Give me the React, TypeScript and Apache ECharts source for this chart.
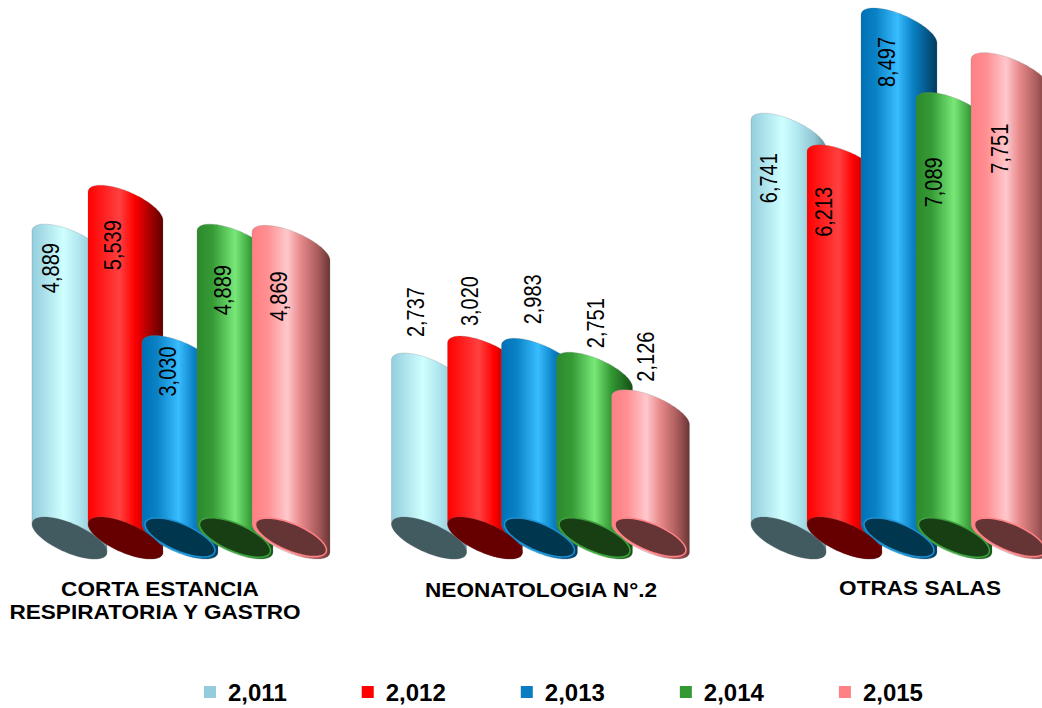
import React, { useEffect, useRef } from "react";
import * as echarts from "echarts";

const categories = ["CORTA ESTANCIA\nRESPIRATORIA Y GASTRO", "NEONATOLOGIA N°.2", "OTRAS SALAS"];
const years = ["2,011", "2,012", "2,013", "2,014", "2,015"];
const values2011 = [4889, 2737, 6741];
const values2012 = [5539, 3020, 6213];
const values2013 = [3030, 2983, 8497];
const values2014 = [4889, 2751, 7089];
const values2015 = [4869, 2126, 7751];
const allValues = [values2011, values2012, values2013, values2014, values2015];

// Styling
const swatch = ["#93CDDD", "#FF0000", "#0A7DC2", "#339933", "#FF8085"];
const gradients: [number, string][][] = [
  [[0, "#93CDDD"], [0.42, "#CFFFFF"], [0.6, "#B4EAF2"], [0.85, "#8FC4D2"], [1, "#5F8C98"]],
  [[0, "#FF0000"], [0.42, "#FF4040"], [0.62, "#FF0000"], [0.8, "#B00000"], [1, "#600000"]],
  [[0, "#0070B5"], [0.2, "#0B82C6"], [0.48, "#38BDFF"], [0.68, "#0B82C6"], [1, "#003A5E"]],
  [[0, "#2C8A2C"], [0.2, "#359A35"], [0.5, "#78E878"], [0.72, "#339933"], [1, "#154F15"]],
  [[0, "#FF8085"], [0.2, "#FF8F92"], [0.45, "#FFC8CC"], [0.62, "#E88A8C"], [0.85, "#A85A5A"], [1, "#6A3535"]],
];
const baseColors = ["#425B61", "#660000", "#00374F", "#173F13", "#653535"];
const baseStroke = ["rgba(90,90,90,0.3)", "rgba(90,90,90,0.3)", "#1E90D0", "#3FA03F", "#FF8085"];
const baseInset = [0, 0, 3, 2.5, 3.5];

// Layout
const barOffset = [-110, -54, 0, 55, 110]; // from the middle bar's left edge
const barWidth = [75, 75, 76, 76, 78];
const FACE_H = 42;
const FACE_TILT = 14;
const labelOffset: [number, number][][] = [
  [[19, 44], [24, -41], [18, 65]],
  [[25, 60], [22.5, -35], [17, 67]],
  [[25.7, 36], [31, -39], [26, 54]],
  [[26, 66], [39.5, -29], [18, 90]],
  [[27, 71], [34.5, -33], [29, 96]],
];
const LABEL_FONT = "Liberation Sans";

function face(left: number, top: number, w: number, h: number, from: number, to: number) {
  const a = w / 2;
  const cx = left + a;
  const half = h / 2;
  const k = FACE_TILT * (h / FACE_H);
  const b = Math.sqrt(half * half - k * k);
  const cy = top + half;
  const pts: number[][] = [];
  const n = 60;
  for (let i = 0; i <= n; i++) {
    const t = from + ((to - from) * i) / n;
    pts.push([cx + a * Math.cos(t), cy + k * Math.cos(t) + b * Math.sin(t)]);
  }
  return pts;
}

function barLeft(api: any, cat: number, s: number) {
  return api.coord([cat, 0])[0] - 38 + barOffset[s];
}

function bodyRenderer(s: number) {
  return (params: any, api: any) => {
    const cat = api.value(0);
    const left = barLeft(api, cat, s);
    const topY = api.coord([cat, api.value(1)])[1];
    const baseY = api.coord([cat, 0])[1];
    const w = barWidth[s];
    const upper = face(left, topY, w, FACE_H, Math.PI, 2 * Math.PI);
    const lower = face(left, baseY, w, FACE_H, 0, Math.PI);
    return {
      type: "polygon",
      shape: { points: upper.concat(lower) },
      style: {
        fill: new echarts.graphic.LinearGradient(0, 0, 1, 0,
          gradients[s].map(([offset, color]) => ({ offset, color }))),
        stroke: "rgba(120,120,120,0.25)",
        lineWidth: 1,
      },
    };
  };
}

function topRenderer(s: number) {
  return (params: any, api: any) => {
    const cat = api.value(0);
    const value = api.value(1);
    const left = barLeft(api, cat, s);
    const topY = api.coord([cat, value])[1];
    const baseY = api.coord([cat, 0])[1];
    const w = barWidth[s];
    const inset = baseInset[s];
    const pts = face(left + inset, baseY + inset * 0.3, w - inset * 2, FACE_H - inset, 0, 2 * Math.PI);
    const [dx, dy] = labelOffset[s][cat];
    return {
      type: "group",
      children: [
        { type: "polygon", shape: { points: pts }, style: { fill: baseColors[s], stroke: baseStroke[s], lineWidth: s > 1 ? 1.5 : 0.7 } },
        {
          type: "text",
          x: left + dx,
          y: topY + dy,
          rotation: Math.PI / 2,
          scaleY: 1.17,
          style: {
            text: value.toLocaleString("en-US"),
            fill: "#000",
            font: `20px "${LABEL_FONT}"`,
            align: "center",
            verticalAlign: "middle",
          },
        },
      ],
    };
  };
}

const categoryText: { x: number; y: number }[][] = [
  [{ x: 160, y: 589 }, { x: 155, y: 612 }],
  [{ x: 541, y: 590 }],
  [{ x: 920, y: 588 }],
];

export default function App() {
  const ref = useRef<HTMLDivElement>(null);
  useEffect(() => {
    const chart = echarts.init(ref.current!, undefined, { renderer: "svg" });
    const seriesData = allValues.map((vals) => vals.map((v, i) => [i, v]));
    chart.setOption({
      animation: false,
      color: swatch,
      grid: { left: 0, top: 8, width: 1042, height: 509, containLabel: false },
      // Category index as a number: the 360px bands run past the page's right edge.
      xAxis: { type: "value", min: -0.5007, max: 2.3978, show: false },
      yAxis: { type: "value", min: 0, max: 8497, show: false },
      legend: {
        left: 199,
        top: 675,
        data: years,
        icon: "rect",
        itemWidth: 12,
        itemHeight: 12,
        itemGap: 75,
        textStyle: { fontFamily: LABEL_FONT, fontWeight: "bold", fontSize: 24, color: "#000", padding: [0, 0, 0, 7] },
      },
      series: [
        ...years.map((name, s) => ({
          name,
          type: "custom",
          clip: false,
          z: 2,
          encode: { x: 0, y: 1 },
          data: seriesData[s],
          renderItem: bodyRenderer(s),
          itemStyle: { color: swatch[s] },
        })),
        ...years.map((name, s) => ({ name: `base ${name}`, s })).reverse().map(({ name, s }) => ({
          name,
          type: "custom",
          clip: false,
          z: 3,
          encode: { x: 0, y: 1 },
          data: seriesData[s],
          renderItem: topRenderer(s),
        })),
      ],
      graphic: categories.flatMap((c, i) =>
        c.split("\n").map((line, j) => ({
          type: "text",
          x: categoryText[i][j].x,
          y: categoryText[i][j].y,
          scaleX: 1.13,
          style: {
            text: line,
            fill: "#000",
            font: `bold 20px "${LABEL_FONT}"`,
            align: "center",
            verticalAlign: "middle",
          },
        }))
      ),
    });
    return () => chart.dispose();
  }, []);
  return <div ref={ref} style={{ position: "fixed", left: 0, top: 0, width: 1042, height: 708, background: "#fff" }} />;
}
